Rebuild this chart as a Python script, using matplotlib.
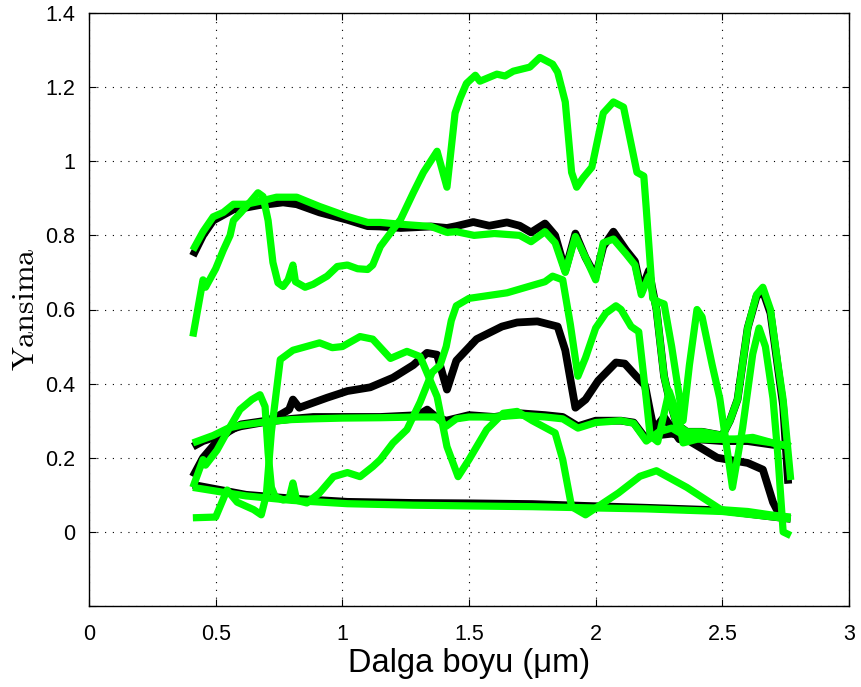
import matplotlib
matplotlib.use("Agg")
import matplotlib.pyplot as plt

# ---- spectra: wavelength (um) knots and reflectance values ----
# reference spectra (black)
wl_ref_a = [0.41, 0.45, 0.49, 0.53, 0.57, 0.62, 0.675, 0.72, 0.766, 0.82, 0.91, 1.02, 1.10, 1.15,
            1.23, 1.35, 1.413, 1.45, 1.517, 1.58, 1.65, 1.70, 1.745, 1.80, 1.84, 1.88, 1.92, 1.96,
            2.0, 2.03, 2.07, 2.12, 2.155, 2.18, 2.21, 2.24, 2.27, 2.29, 2.32, 2.36, 2.42, 2.50,
            2.53, 2.56, 2.60, 2.635, 2.66, 2.69, 2.72, 2.74, 2.76]
refl_ref_a = [0.745, 0.80, 0.84, 0.855, 0.87, 0.875, 0.882, 0.885, 0.889, 0.884, 0.862, 0.842, 0.825, 0.824,
              0.82, 0.824, 0.82, 0.825, 0.836, 0.826, 0.835, 0.826, 0.808, 0.832, 0.80, 0.705, 0.805, 0.74,
              0.69, 0.77, 0.81, 0.76, 0.73, 0.65, 0.705, 0.60, 0.42, 0.36, 0.29, 0.27, 0.27, 0.26,
              0.30, 0.357, 0.55, 0.635, 0.65, 0.59, 0.44, 0.34, 0.13]

wl_ref_b = [0.41, 0.45, 0.49, 0.55, 0.60, 0.70, 0.80, 0.885, 1.0, 1.15, 1.30, 1.335, 1.37, 1.41, 1.5,
            1.6, 1.7, 1.8, 1.87, 1.93, 2.0, 2.1, 2.15, 2.20, 2.27, 2.33, 2.37, 2.48, 2.60, 2.66, 2.70, 2.73]
refl_ref_b = [0.23, 0.245, 0.254, 0.275, 0.285, 0.297, 0.305, 0.31, 0.31, 0.31, 0.315, 0.33, 0.31, 0.30, 0.315,
              0.31, 0.32, 0.315, 0.31, 0.285, 0.30, 0.30, 0.295, 0.25, 0.31, 0.25, 0.245, 0.20, 0.186, 0.168, 0.08, 0.04]

wl_ref_c = [0.41, 0.45, 0.50, 0.55, 0.60, 0.70, 0.74, 0.79, 0.805, 0.83, 0.94, 1.02, 1.11, 1.20, 1.28,
            1.334, 1.374, 1.413, 1.45, 1.53, 1.63, 1.69, 1.77, 1.85, 1.88, 1.92, 1.96, 2.01, 2.08,
            2.115, 2.16, 2.195, 2.215, 2.235, 2.30, 2.40, 2.50, 2.60, 2.70, 2.77]
refl_ref_c = [0.149, 0.20, 0.24, 0.27, 0.29, 0.30, 0.31, 0.33, 0.357, 0.335, 0.362, 0.38, 0.39, 0.416, 0.45,
              0.483, 0.478, 0.384, 0.462, 0.52, 0.554, 0.565, 0.568, 0.554, 0.49, 0.335, 0.357, 0.408, 0.457,
              0.454, 0.42, 0.395, 0.325, 0.26, 0.265, 0.25, 0.245, 0.245, 0.235, 0.23]

wl_ref_d = [0.41, 0.62, 0.80, 1.02, 1.28, 1.50, 1.75, 1.96, 2.20, 2.495, 2.77]
refl_ref_d = [0.127, 0.10, 0.09, 0.081, 0.078, 0.077, 0.075, 0.07, 0.065, 0.058, 0.035]

# estimated spectra (green)
wl_est_a = [0.41, 0.45, 0.49, 0.53, 0.57, 0.62, 0.675, 0.74, 0.82, 0.91, 1.02, 1.10, 1.15, 1.23, 1.35,
            1.413, 1.45, 1.52, 1.60, 1.70, 1.745, 1.80, 1.84, 1.88, 1.92, 1.96, 2.0, 2.03, 2.07, 2.12,
            2.155, 2.18, 2.21, 2.24, 2.27, 2.29, 2.32, 2.36, 2.42, 2.50, 2.53, 2.56, 2.60, 2.635, 2.66,
            2.69, 2.72, 2.74, 2.77]
refl_est_a = [0.76, 0.81, 0.85, 0.862, 0.884, 0.884, 0.892, 0.903, 0.903, 0.878, 0.851, 0.835, 0.835, 0.83, 0.824,
              0.808, 0.81, 0.80, 0.805, 0.80, 0.783, 0.81, 0.78, 0.70, 0.797, 0.74, 0.68, 0.78, 0.79, 0.75,
              0.72, 0.64, 0.69, 0.60, 0.42, 0.36, 0.29, 0.27, 0.27, 0.26, 0.30, 0.357, 0.55, 0.64, 0.66,
              0.60, 0.45, 0.357, 0.14]

wl_est_b = [0.41, 0.45, 0.49, 0.55, 0.60, 0.70, 0.80, 0.885, 1.0, 1.15, 1.30, 1.37, 1.41, 1.45, 1.5,
            1.6, 1.7, 1.8, 1.87, 1.93, 2.0, 2.1, 2.15, 2.20, 2.25, 2.30, 2.35, 2.45, 2.55, 2.62, 2.70, 2.77]
refl_est_b = [0.24, 0.25, 0.26, 0.28, 0.288, 0.297, 0.303, 0.305, 0.307, 0.308, 0.31, 0.31, 0.285, 0.305, 0.31,
              0.31, 0.315, 0.31, 0.305, 0.28, 0.295, 0.30, 0.293, 0.245, 0.27, 0.28, 0.26, 0.25, 0.25, 0.255, 0.24, 0.23]

wl_est_d = [0.41, 0.62, 0.80, 1.02, 1.28, 1.50, 1.75, 1.96, 2.20, 2.50, 2.77]
refl_est_d = [0.12, 0.097, 0.085, 0.076, 0.072, 0.07, 0.068, 0.065, 0.062, 0.055, 0.035]

wl_est_e = [0.41, 0.45, 0.46, 0.50, 0.53, 0.557, 0.57, 0.60, 0.636, 0.667, 0.687, 0.707, 0.726, 0.746,
            0.766, 0.786, 0.805, 0.815, 0.853, 0.885, 0.94, 0.98, 1.02, 1.06, 1.10, 1.12, 1.15, 1.23,
            1.28, 1.32, 1.374, 1.413, 1.445, 1.465, 1.49, 1.525, 1.543, 1.61, 1.642, 1.675, 1.74, 1.78,
            1.83, 1.85, 1.88, 1.905, 1.925, 1.95, 1.985, 2.03, 2.07, 2.11, 2.163, 2.19, 2.20, 2.225,
            2.25, 2.27, 2.30, 2.345, 2.37, 2.40, 2.42, 2.46, 2.49, 2.54, 2.58, 2.62, 2.645, 2.67,
            2.70, 2.72, 2.74, 2.77]
refl_est_e = [0.527, 0.68, 0.66, 0.71, 0.76, 0.80, 0.84, 0.862, 0.89, 0.915, 0.905, 0.84, 0.727, 0.672,
              0.662, 0.68, 0.72, 0.675, 0.66, 0.668, 0.69, 0.716, 0.72, 0.71, 0.708, 0.72, 0.77, 0.843,
              0.915, 0.97, 1.027, 0.93, 1.13, 1.17, 1.21, 1.232, 1.216, 1.235, 1.23, 1.243, 1.254, 1.28,
              1.262, 1.24, 1.16, 0.97, 0.93, 0.955, 0.984, 1.13, 1.16, 1.146, 0.97, 0.96, 0.87, 0.63,
              0.62, 0.615, 0.50, 0.30, 0.45, 0.60, 0.58, 0.45, 0.36, 0.12, 0.28, 0.48, 0.55, 0.50,
              0.36, 0.20, 0.0, -0.01]

wl_est_f = [0.41, 0.50, 0.545, 0.585, 0.65, 0.68, 0.70, 0.72, 0.755, 0.805, 0.91, 0.96, 1.0, 1.07, 1.12,
            1.19, 1.255, 1.307, 1.374, 1.413, 1.457, 1.50, 1.57, 1.635, 1.69, 1.75, 1.84, 1.87, 1.905,
            1.94, 1.96, 2.09, 2.175, 2.24, 2.36, 2.495, 2.60, 2.70, 2.77]
refl_est_f = [0.038, 0.04, 0.113, 0.08, 0.06, 0.046, 0.10, 0.27, 0.465, 0.49, 0.51, 0.497, 0.50, 0.527, 0.52,
              0.468, 0.487, 0.473, 0.365, 0.23, 0.149, 0.195, 0.276, 0.32, 0.325, 0.30, 0.267, 0.195, 0.068,
              0.054, 0.046, 0.105, 0.15, 0.165, 0.12, 0.06, 0.055, 0.045, 0.04]

wl_est_g = [0.41, 0.45, 0.46, 0.505, 0.557, 0.596, 0.643, 0.675, 0.695, 0.707, 0.72, 0.735, 0.766, 0.79,
            0.805, 0.82, 0.86, 0.91, 0.965, 1.02, 1.07, 1.12, 1.15, 1.20, 1.255, 1.307, 1.354, 1.386,
            1.41, 1.43, 1.45, 1.50, 1.55, 1.60, 1.65, 1.70, 1.76, 1.80, 1.83, 1.87, 1.90, 1.93, 1.96,
            2.0, 2.04, 2.08, 2.10, 2.14, 2.17, 2.20, 2.215, 2.245, 2.29, 2.33, 2.345, 2.40, 2.50, 2.60,
            2.70, 2.77]
refl_est_g = [0.12, 0.195, 0.18, 0.22, 0.284, 0.33, 0.357, 0.37, 0.338, 0.213, 0.12, 0.095, 0.086, 0.09,
              0.132, 0.085, 0.078, 0.105, 0.149, 0.16, 0.149, 0.176, 0.195, 0.24, 0.276, 0.35, 0.43, 0.45,
              0.50, 0.57, 0.61, 0.63, 0.635, 0.64, 0.645, 0.655, 0.667, 0.675, 0.69, 0.68, 0.56, 0.42, 0.47,
              0.55, 0.59, 0.61, 0.60, 0.554, 0.54, 0.357, 0.26, 0.243, 0.38, 0.30, 0.24, 0.25, 0.25, 0.25,
              0.24, 0.23]

reference = [(wl_ref_a, refl_ref_a), (wl_ref_b, refl_ref_b), (wl_ref_c, refl_ref_c), (wl_ref_d, refl_ref_d)]
estimated = [(wl_est_a, refl_est_a), (wl_est_b, refl_est_b), (wl_est_d, refl_est_d),
             (wl_est_e, refl_est_e), (wl_est_f, refl_est_f), (wl_est_g, refl_est_g)]

x_ticks = [0, 0.5, 1, 1.5, 2, 2.5, 3]
x_tick_labels = ["0", "0.5", "1", "1.5", "2", "2.5", "3"]
y_ticks = [-0.2, 0, 0.2, 0.4, 0.6, 0.8, 1.0, 1.2, 1.4]
y_tick_labels = ["", "0", "0.2", "0.4", "0.6", "0.8", "1", "1.2", "1.4"]

plt.rcParams["mathtext.fontset"] = "cm"
sans = ["Liberation Sans", "DejaVu Sans"]

fig = plt.figure(figsize=(8.62, 6.87), dpi=100)
ax = fig.add_axes([89 / 862, 1 - 606 / 687, 760 / 862, 593 / 687])

for wl, r in reference:
    ax.plot(wl, r, color="black", lw=5.6, solid_joinstyle="round", solid_capstyle="butt", zorder=2)
for wl, r in estimated:
    ax.plot(wl, r, color="#00ff00", lw=5.2, solid_joinstyle="round", solid_capstyle="butt", zorder=3)

ax.set_xlim(0, 3)
ax.set_ylim(-0.2, 1.4)
ax.set_xticks(x_ticks)
ax.set_xticklabels(x_tick_labels, fontfamily=sans, fontsize=15.5)
ax.set_yticks(y_ticks)
ax.set_yticklabels(y_tick_labels, fontfamily=sans, fontsize=15.5)
ax.tick_params(axis="x", direction="in", length=5, width=0.8, top=True, pad=13)
ax.tick_params(axis="y", direction="in", length=5, width=0.8, right=True, pad=10)
ax.grid(True, linestyle=(0, (1, 6)), color="black", linewidth=0.8)
for s in ax.spines.values():
    s.set_linewidth(1.0)

ax.set_xlabel("Dalga boyu (μm)", fontfamily=sans, fontsize=23.5, labelpad=2)
ax.set_ylabel(r"$\mathrm{Yansima}$", fontsize=23, labelpad=3)

fig.savefig("out.png", dpi=100)
